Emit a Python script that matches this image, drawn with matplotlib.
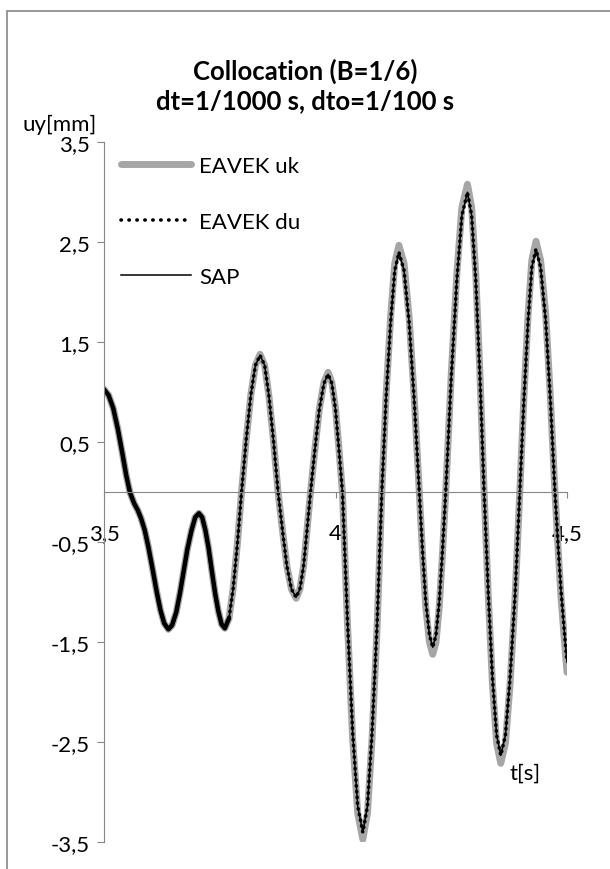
import matplotlib
matplotlib.use("Agg")
import matplotlib.pyplot as plt
from matplotlib.patches import Rectangle

plt.rcParams["font.family"] = ["Lato", "DejaVu Sans"]

# data (t in s, uy in mm)
t = [3.500, 3.510, 3.520, 3.530, 3.540, 3.548, 3.556, 3.565, 3.573, 3.580,
     3.588, 3.596, 3.605, 3.614, 3.622, 3.630, 3.639, 3.647, 3.656, 3.664,
     3.672, 3.680, 3.689, 3.697, 3.705, 3.712, 3.719, 3.726, 3.733, 3.740,
     3.747, 3.754, 3.761, 3.770, 3.779, 3.788, 3.797, 3.807, 3.817, 3.827,
     3.837, 3.847, 3.856, 3.866, 3.876, 3.886, 3.895, 3.905, 3.915, 3.923,
     3.931, 3.938, 3.946, 3.956, 3.965, 3.975, 3.984, 3.992, 4.000, 4.007,
     4.015, 4.026, 4.037, 4.048, 4.059, 4.069, 4.079, 4.090, 4.100, 4.109,
     4.119, 4.128, 4.137, 4.148, 4.159, 4.170, 4.181, 4.188, 4.195, 4.203,
     4.210, 4.217, 4.224, 4.231, 4.238, 4.250, 4.262, 4.273, 4.285, 4.294,
     4.303, 4.312, 4.321, 4.330, 4.339, 4.348, 4.357, 4.367, 4.377, 4.388,
     4.398, 4.407, 4.416, 4.424, 4.433, 4.443, 4.454, 4.464, 4.474, 4.481,
     4.487, 4.494, 4.500]

sap = [1.03, 0.97, 0.84, 0.63, 0.38, 0.17, 0.00, -0.11, -0.18, -0.26,
       -0.38, -0.55, -0.77, -1.00, -1.18, -1.31, -1.37, -1.33, -1.20, -1.01,
       -0.79, -0.57, -0.38, -0.25, -0.21, -0.25, -0.38, -0.56, -0.79, -1.01,
       -1.19, -1.32, -1.36, -1.26, -0.96, -0.52, 0.00, 0.52, 0.97, 1.27,
       1.37, 1.27, 0.97, 0.52, 0.00, -0.40, -0.74, -0.97, -1.05, -0.97,
       -0.74, -0.40, 0.00, 0.45, 0.83, 1.09, 1.18, 1.09, 0.83, 0.45,
       0.00, -1.30, -2.40, -3.14, -3.40, -3.14, -2.40, -1.30, 0.00, 0.92,
       1.70, 2.22, 2.40, 2.22, 1.70, 0.92, 0.00, -0.59, -1.10, -1.43,
       -1.55, -1.43, -1.10, -0.59, 0.00, 1.15, 2.12, 2.77, 3.00, 2.77,
       2.12, 1.15, 0.00, -1.01, -1.86, -2.43, -2.63, -2.43, -1.86, -1.01,
       0.00, 0.93, 1.72, 2.25, 2.43, 2.25, 1.72, 0.93, 0.00, -0.55,
       -0.98, -1.38, -1.70]

# EAVEK du lies on top of SAP everywhere in the picture
du = list(sap)

uk = [1.03, 0.97, 0.84, 0.63, 0.38, 0.17, 0.00, -0.11, -0.18, -0.26,
      -0.38, -0.55, -0.77, -1.00, -1.18, -1.31, -1.37, -1.33, -1.20, -1.01,
      -0.79, -0.57, -0.38, -0.25, -0.21, -0.25, -0.38, -0.56, -0.79, -1.01,
      -1.19, -1.32, -1.36, -1.26, -0.96, -0.52, 0.00, 0.52, 0.97, 1.27,
      1.38, 1.27, 0.97, 0.52, 0.00, -0.40, -0.74, -0.97, -1.06, -0.97,
      -0.74, -0.40, 0.00, 0.45, 0.83, 1.10, 1.20, 1.10, 0.84, 0.46,
      0.00, -1.33, -2.46, -3.21, -3.47, -3.21, -2.46, -1.33, 0.00, 0.95,
      1.75, 2.29, 2.47, 2.29, 1.75, 0.95, 0.00, -0.62, -1.15, -1.50,
      -1.62, -1.50, -1.15, -0.62, 0.00, 1.18, 2.18, 2.85, 3.08, 2.85,
      2.18, 1.18, 0.00, -1.04, -1.92, -2.51, -2.71, -2.51, -1.92, -1.04,
      0.00, 0.96, 1.78, 2.32, 2.51, 2.32, 1.78, 0.96, 0.00, -0.58,
      -1.04, -1.46, -1.80]

yticks = [-3.5, -2.5, -1.5, -0.5, 0.5, 1.5, 2.5, 3.5]
xticks = [3.5, 4.0, 4.5]

def comma(v):
    s = ("%g" % v).replace(".", ",")
    return s

axis_grey = "#868686"
fs = 16

fig = plt.figure(figsize=(6.1, 8.7), dpi=100)
ax = fig.add_axes([0.1705, 0.0307, 0.759, 0.8046])

ax.plot(t, uk, color="#a6a6a6", lw=5, solid_capstyle="round", label="EAVEK uk")
ax.plot(t, du, color="black", lw=2.6, linestyle=(0, (0.1, 1.5)),
        dash_capstyle="round")
# at the start the dots run together into a solid black stroke
n0 = 34
ax.plot(t[:n0], du[:n0], color="black", lw=3.2, solid_capstyle="round")
ax.plot(t, sap, color="black", lw=1.1, label="SAP")

# legend handle for du with the sparser dots seen in the key
ax.plot([], [], color="black", lw=2.6, linestyle=(0, (0.1, 2.1)),
        dash_capstyle="round", label="EAVEK du")

ax.set_xlim(3.5, 4.5)
ax.set_ylim(-3.5, 3.5)

for s in ["top", "right"]:
    ax.spines[s].set_visible(False)
ax.spines["bottom"].set_position(("data", 0))
ax.spines["left"].set_color(axis_grey)
ax.spines["bottom"].set_color(axis_grey)

ax.set_yticks(yticks)
ax.set_yticklabels([comma(v) for v in yticks])
ax.set_xticks(xticks)
ax.set_xticklabels([comma(v) for v in xticks])
ax.tick_params(axis="y", direction="out", length=5, color=axis_grey,
               labelsize=fs, pad=5)
ax.tick_params(axis="x", direction="out", length=4, color=axis_grey,
               labelsize=fs, pad=18)

fig.suptitle("Collocation (B=1/6)\ndt=1/1000 s, dto=1/100 s",
             x=0.5, y=1 - 59 / 870, fontsize=18.5, fontweight="bold",
             va="top", linespacing=1.25)

fig.text(22 / 610, 1 - 125 / 870, "uy[mm]", fontsize=fs, va="center")
fig.text(510 / 610, 1 - 774 / 870, "t[s]", fontsize=fs, va="center")

handles, labels = ax.get_legend_handles_labels()
order = [labels.index(n) for n in ["EAVEK uk", "EAVEK du", "SAP"]]
ax.legend([handles[i] for i in order], [labels[i] for i in order],
          loc="upper left", bbox_to_anchor=(101 / 610, 1 - 137 / 870),
          bbox_transform=fig.transFigure, frameon=False, fontsize=fs,
          handlelength=3.15, handletextpad=0.36, labelspacing=1.6)

fig.patches.append(Rectangle((7 / 610, -0.1), 1.2, 1 - 12 / 870 + 0.1,
                             transform=fig.transFigure, fill=False,
                             edgecolor=axis_grey, lw=1.2))

fig.savefig("out.png", dpi=100)
